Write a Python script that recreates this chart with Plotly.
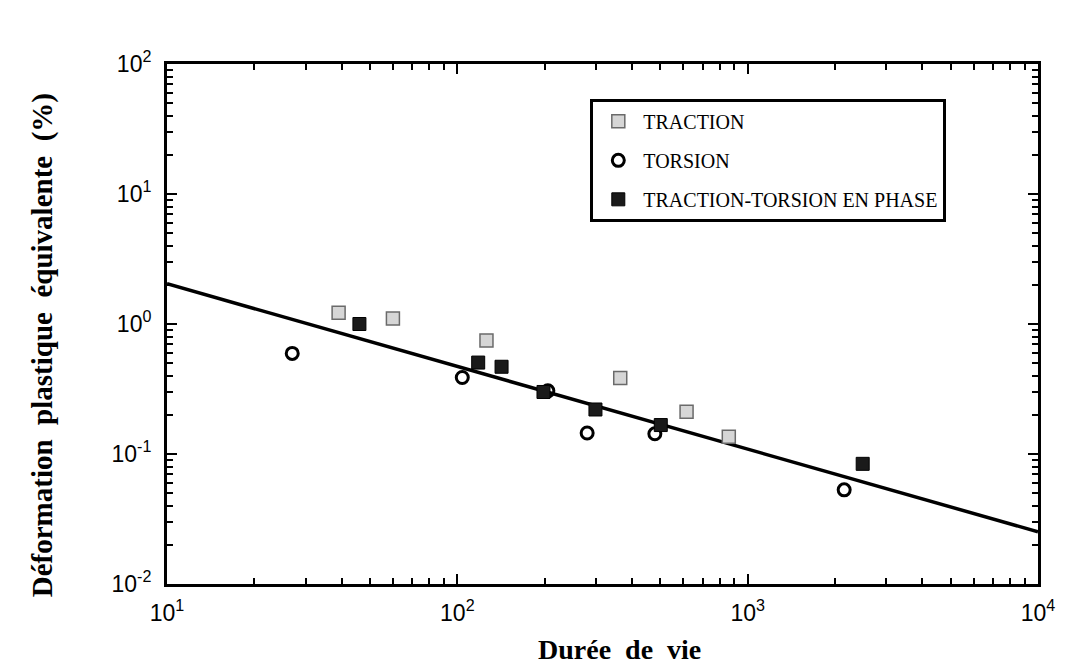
import plotly.graph_objects as go

# ---- data (log-log) ----
traction_x = [39, 60, 126, 364, 616, 861]
traction_y = [1.22, 1.10, 0.745, 0.384, 0.211, 0.136]

torsion_x = [27, 104, 205, 280, 479, 2150]
torsion_y = [0.594, 0.388, 0.306, 0.145, 0.143, 0.053]

phase_x = [46, 118, 142, 198, 299, 502, 2490]
phase_y = [1.00, 0.505, 0.469, 0.300, 0.220, 0.167, 0.084]

fit_x = [10, 10000]
fit_y = [2.04, 0.0252]

x_tick_vals = [10, 100, 1000, 10000]
x_tick_text = ["10<sup>1</sup>", "10<sup>2</sup>", "10<sup>3</sup>", "10<sup>4</sup>"]
y_tick_vals = [0.01, 0.1, 1, 10, 100]
y_tick_text = ["10<sup>-2</sup>", "10<sup>-1</sup>", "10<sup>0</sup>", "10<sup>1</sup>", "10<sup>2</sup>"]
minor_mults = [2, 3, 4, 5, 6, 7, 8, 9]

legend_names = ["TRACTION", "TORSION", "TRACTION-TORSION EN PHASE"]
x_title_words = ["Durée", "de", "vie"]
y_title_words = ["Déformation", "plastique", "équivalente", "(%)"]

SERIF = "Liberation Serif, Times New Roman, serif"
SANS = "Liberation Sans, Arial, Helvetica, sans-serif"
GAP = "\u00a0\u00a0"

x_minor = [m * d for d in x_tick_vals[:-1] for m in minor_mults]
y_minor = [m * d for d in y_tick_vals[:-1] for m in minor_mults]

fig = go.Figure()

fig.add_trace(go.Scatter(
    x=fit_x, y=fit_y, mode="lines",
    line=dict(color="black", width=3.5),
    showlegend=False, hoverinfo="skip"))

fig.add_trace(go.Scatter(
    x=traction_x, y=traction_y, mode="markers", name=legend_names[0],
    legendgroup="a",
    marker=dict(symbol="square", size=13, color="#d6d6d6",
                line=dict(color="#6a6a6a", width=1.5))))

fig.add_trace(go.Scatter(
    x=torsion_x, y=torsion_y, mode="markers", name=legend_names[1],
    legendgroup="b",
    marker=dict(symbol="circle-open", size=12, color="black",
                line=dict(color="black", width=3))))

fig.add_trace(go.Scatter(
    x=phase_x, y=phase_y, mode="markers", name=legend_names[2],
    legendgroup="c",
    marker=dict(symbol="square", size=13, color="#1a1a1a",
                line=dict(color="black", width=1))))

axis_common = dict(
    type="log", showgrid=False, zeroline=False,
    showline=True, linecolor="black", linewidth=3, mirror="ticks",
    ticks="inside", ticklen=10, tickwidth=2, tickcolor="black",
    tickfont=dict(family=SANS, size=23, color="black"),
)

fig.update_xaxes(range=[1, 4], tickmode="array", tickvals=x_tick_vals,
                 ticktext=x_tick_text, ticklabelstandoff=6,
                 minor=dict(tickmode="array", tickvals=x_minor, ticks="inside",
                            ticklen=6, tickwidth=2, tickcolor="black",
                            showgrid=False),
                 **axis_common)
fig.update_yaxes(range=[-2, 2], tickmode="array", tickvals=y_tick_vals,
                 ticktext=y_tick_text, ticklabelstandoff=8,
                 minor=dict(tickmode="array", tickvals=y_minor, ticks="inside",
                            ticklen=6, tickwidth=2, tickcolor="black",
                            showgrid=False),
                 **axis_common)

fig.add_annotation(text="<b>" + "\u00a0\u00a0".join(x_title_words) + "</b>",
                   xref="paper", yref="paper",
                   x=0.52, y=-0.125, showarrow=False,
                   xanchor="center", yanchor="middle",
                   font=dict(family=SERIF, size=28, color="black"))
fig.add_annotation(text="<b>" + GAP.join(y_title_words) + "</b>",
                   xref="paper", yref="paper",
                   x=-0.143, y=0.46, showarrow=False, textangle=-90,
                   xanchor="center", yanchor="middle",
                   font=dict(family=SERIF, size=29, color="black"))

fig.update_layout(
    width=1090, height=669,
    margin=dict(l=159, r=60, t=56, b=93),
    paper_bgcolor="white", plot_bgcolor="white",
    legend=dict(x=0.486, y=0.933, xanchor="left", yanchor="top",
                bordercolor="black", borderwidth=3, bgcolor="white",
                font=dict(family=SERIF, size=20, color="black"),
                traceorder="grouped", tracegroupgap=10,
                itemwidth=40),
)

fig.write_html("out.html")
